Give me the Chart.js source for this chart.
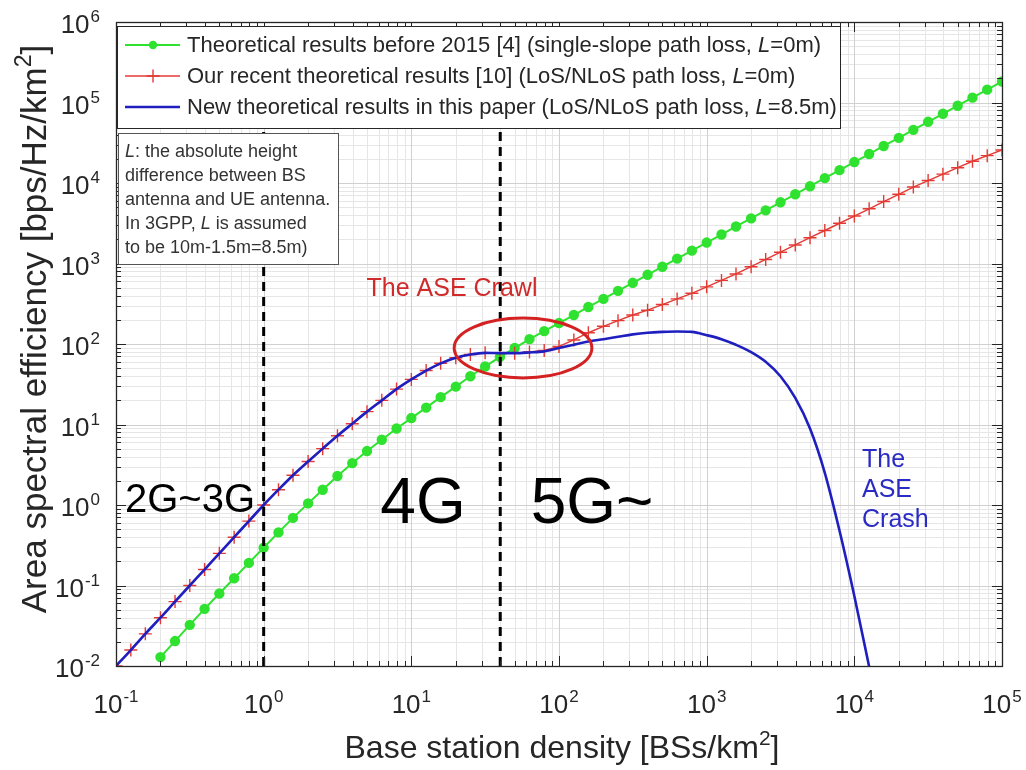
<!DOCTYPE html>
<html><head><meta charset="utf-8">
<script src="https://cdn.jsdelivr.net/npm/chart.js@4.4.1/dist/chart.umd.min.js"></script>
<style>html,body{margin:0;padding:0;background:#fff;}canvas{display:block;}</style>
</head><body>
<canvas id="c" width="1026" height="770"></canvas>
<script>
// ---- data ----
const density = [
  0.1, 0.126, 0.158, 0.2, 0.251, 0.316, 0.398, 0.501, 0.631, 0.794,
  1, 1.26, 1.58, 2, 2.51, 3.16, 3.98, 5.01, 6.31, 7.94,
  10, 12.6, 15.8, 20, 25.1, 31.6, 39.8, 50.1, 63.1, 79.4,
  100, 126, 158, 200, 251, 316, 398, 501, 631, 794,
  1000, 1260, 1580, 2000, 2510, 3160, 3980, 5010, 6310, 7940,
  10000, 12600, 15800, 20000, 25100, 31600, 39800, 50100, 63100, 79400,
  100000
];
const greenASE = [
  null, null, null, 0.0129, 0.0204, 0.0324, 0.0513, 0.0794, 0.123, 0.191,
  0.295, 0.457, 0.692, 1.047, 1.549, 2.291, 3.311, 4.677, 6.457, 8.913,
  12.02, 16.22, 21.88, 29.51, 39.81, 52.48, 69.18, 89.13, 114.8, 144.5,
  182.0, 229.1, 288.4, 363.1, 457.1, 575.4, 724.4, 912.0, 1148, 1445,
  1820, 2291, 2884, 3631, 4571, 5754, 7244, 9120, 11480, 14450,
  18200, 22910, 28840, 36310, 45710, 57540, 72440, 91200, 114800, 144500,
  182000
];
const redASE = [
  0.01, 0.0158, 0.0251, 0.0398, 0.0631, 0.1, 0.158, 0.251, 0.398, 0.631,
  1.0, 1.549, 2.344, 3.467, 5.012, 7.244, 10.23, 14.45, 19.95, 27.54,
  36.31, 46.77, 57.54, 67.61, 74.13, 77.62, 77.0, 77.0, 79.43, 83.18,
  93.33, 112.2, 138.0, 166.0, 195.0, 229.1, 263.0, 309.0, 363.1, 426.6,
  512.9, 616.6, 741.3, 912.0, 1122, 1380, 1698, 2089, 2570, 3162,
  3890, 4786, 5888, 7244, 8913, 10720, 12880, 15490, 18620, 21880,
  25700
];
const blueASE = [
  0.01, 0.0158, 0.0251, 0.0398, 0.0631, 0.1, 0.158, 0.251, 0.398, 0.631,
  1.0, 1.549, 2.344, 3.467, 5.012, 7.244, 10.23, 14.45, 19.95, 27.54,
  36.31, 46.77, 57.54, 67.61, 74.13, 77.62, 77.0, 77.0, 78.5, 81.0,
  89.13, 97.72, 107.2, 114.8, 123.0, 131.8, 138.0, 141.3, 143.0, 141.3,
  128.8, 114.8, 97.72, 79.43, 60.26, 39.81, 21.38, 8.913, 2.512, 0.479,
  0.0741, 0.0098, null, null, null, null, null, null, null, null,
  null
];
const xTickExponents = [-1, 0, 1, 2, 3, 4, 5];
const yTickExponents = [-2, -1, 0, 1, 2, 3, 4, 5, 6];
const eraBoundaries = [1, 40];
const seriesLabels = [
  ['Theoretical results before 2015 [4] (single-slope path loss, ', 'L', '=0m)'],
  ['Our recent theoretical results [10] (LoS/NLoS path loss, ', 'L', '=0m)'],
  ['New theoretical results in this paper (LoS/NLoS path loss, ', 'L', '=8.5m)']
];
const noteLines = [
  ['', 'L', ': the absolute height'],
  ['difference between BS'],
  ['antenna and UE antenna.'],
  ['In 3GPP, ', 'L', ' is assumed'],
  ['to be 10m-1.5m=8.5m)']
];
const eraLabels = ['2G~3G', '4G', '5G~'];
const crawlLabel = 'The ASE Crawl';
const crashLabel = ['The', 'ASE', 'Crash'];
const crawlEllipse = {xMin: 19.5, xMax: 167, yMin: 37.8, yMax: 210};

// ---- styling ----
const FF = '"Liberation Sans", Arial, Helvetica, sans-serif';
const GREEN = '#2fe22f', RED = '#e33a34', BLUE = '#1f1fc0', AX = '#262626';

function pts(ys) { return density.map((x, i) => ({x: x, y: ys[i]})); }

function segText(ctx, segs, x, y, size, color) {
  let cx = x;
  ctx.fillStyle = color;
  segs.forEach((s, i) => {
    ctx.font = (i % 2 ? 'italic ' : '') + size + 'px ' + FF;
    ctx.fillText(s, cx, y);
    cx += ctx.measureText(s).width;
  });
}
function pow10(ctx, e, x, y, align) {
  const bf = '26px ' + FF, sf = '17px ' + FF;
  ctx.font = bf; const bw = ctx.measureText('10').width;
  ctx.font = sf; const es = String(e); const ew = ctx.measureText(es).width;
  const tw = bw + 1 + ew;
  const x0 = align === 'center' ? x - tw / 2 : x - tw;
  ctx.textAlign = 'left'; ctx.textBaseline = 'alphabetic'; ctx.fillStyle = AX;
  ctx.font = bf; ctx.fillText('10', x0, y);
  ctx.font = sf; ctx.fillText(es, x0 + bw + 1, y - 11);
}
function supTitle(ctx, parts, size) {
  const bf = size + 'px ' + FF, sf = Math.round(size * 0.65) + 'px ' + FF;
  ctx.font = bf; const w0 = ctx.measureText(parts[0]).width, w2 = ctx.measureText(parts[2]).width;
  ctx.font = sf; const w1 = ctx.measureText(parts[1]).width;
  let x = -(w0 + w1 + w2) / 2;
  ctx.textAlign = 'left'; ctx.fillStyle = AX;
  ctx.font = bf; ctx.fillText(parts[0], x, 0); x += w0;
  ctx.font = sf; ctx.fillText(parts[1], x, -size * 0.42); x += w1;
  ctx.font = bf; ctx.fillText(parts[2], x, 0);
}
function decadeValues(lo, hi) {
  const out = [];
  for (let k = Math.round(Math.log10(lo)); k < Math.round(Math.log10(hi)); k++)
    for (let m = 1; m <= 9; m++) out.push({v: m * Math.pow(10, k), major: m === 1});
  out.push({v: hi, major: true});
  return out;
}

const matlabPlugin = {
  id: 'matlab',
  beforeDatasetsDraw(chart) {
    const c = chart.ctx, a = chart.chartArea, xs = chart.scales.x, ys = chart.scales.y;
    c.save();
    c.fillStyle = '#fff'; c.fillRect(a.left, a.top, a.right - a.left, a.bottom - a.top);
    c.lineWidth = 1;
    [false, true].forEach(maj => {
      c.strokeStyle = maj ? '#d0d0d0' : '#e6e6e6';
      decadeValues(0.1, 1e5).filter(t => t.major === maj).forEach(t => {
        const px = Math.round(xs.getPixelForValue(t.v)) + 0.5;
        c.beginPath(); c.moveTo(px, a.top); c.lineTo(px, a.bottom); c.stroke();
      });
      decadeValues(0.01, 1e6).filter(t => t.major === maj).forEach(t => {
        const py = Math.round(ys.getPixelForValue(t.v)) + 0.5;
        c.beginPath(); c.moveTo(a.left, py); c.lineTo(a.right, py); c.stroke();
      });
    });
    c.restore();
  },
  afterDatasetsDraw(chart) {
    const c = chart.ctx, a = chart.chartArea, xs = chart.scales.x, ys = chart.scales.y;
    c.save();
    c.beginPath(); c.rect(a.left, a.top, a.right - a.left, a.bottom - a.top); c.clip();
    c.strokeStyle = '#000'; c.lineWidth = 3; c.setLineDash([9, 6]);
    eraBoundaries.forEach(v => {
      const px = xs.getPixelForValue(v);
      c.beginPath(); c.moveTo(px, a.bottom); c.lineTo(px, a.top); c.stroke();
    });
    c.setLineDash([]);
    const ex0 = xs.getPixelForValue(crawlEllipse.xMin), ex1 = xs.getPixelForValue(crawlEllipse.xMax);
    const ey0 = ys.getPixelForValue(crawlEllipse.yMax), ey1 = ys.getPixelForValue(crawlEllipse.yMin);
    c.strokeStyle = '#d42222'; c.lineWidth = 3;
    c.beginPath(); c.ellipse((ex0 + ex1) / 2, (ey0 + ey1) / 2, (ex1 - ex0) / 2, (ey1 - ey0) / 2, 0, 0, Math.PI * 2); c.stroke();
    c.restore();

    c.save();
    c.textBaseline = 'alphabetic';
    c.fillStyle = '#000'; c.textAlign = 'center';
    c.font = '40px ' + FF; c.fillText(eraLabels[0], 190, 512);
    c.font = '64px ' + FF; c.fillText(eraLabels[1], 423, 523);
    c.fillText(eraLabels[2], 592, 523);
    c.fillStyle = '#d02a2a'; c.font = '25px ' + FF; c.fillText(crawlLabel, 452, 296);
    c.fillStyle = '#2a2ac4'; c.textAlign = 'left';
    crashLabel.forEach((t, i) => c.fillText(t, 862, 467 + i * 30));

    c.strokeStyle = AX; c.lineWidth = 1;
    decadeValues(0.1, 1e5).forEach(t => {
      const px = Math.round(xs.getPixelForValue(t.v)) + 0.5, L = t.major ? 10 : 5;
      c.beginPath(); c.moveTo(px, a.bottom); c.lineTo(px, a.bottom - L);
      c.moveTo(px, a.top); c.lineTo(px, a.top + L); c.stroke();
    });
    decadeValues(0.01, 1e6).forEach(t => {
      const py = Math.round(ys.getPixelForValue(t.v)) + 0.5, L = t.major ? 10 : 5;
      c.beginPath(); c.moveTo(a.left, py); c.lineTo(a.left + L, py);
      c.moveTo(a.right, py); c.lineTo(a.right - L, py); c.stroke();
    });
    c.lineWidth = 1.3;
    c.strokeRect(Math.round(a.left) + 0.5, Math.round(a.top) + 0.5, Math.round(a.right - a.left), Math.round(a.bottom - a.top));

    xTickExponents.forEach(e => pow10(c, e, xs.getPixelForValue(Math.pow(10, e)), a.bottom + 47, 'center'));
    yTickExponents.forEach(e => pow10(c, e, a.left - 16, ys.getPixelForValue(Math.pow(10, e)) + 11, 'right'));

    c.save(); c.translate((a.left + a.right) / 2 + 3, 758);
    supTitle(c, ['Base station density [BSs/km', '2', ']'], 32); c.restore();
    c.save(); c.translate(46, 329); c.rotate(-Math.PI / 2);
    supTitle(c, ['Area spectral efficiency [bps/Hz/km', '2', ']'], 35); c.restore();

    const ds = chart.data.datasets;
    const order = [2, 1, 0];
    c.fillStyle = '#fff'; c.fillRect(117, 26, 723, 102);
    c.strokeStyle = AX; c.lineWidth = 1; c.strokeRect(117.5, 26.5, 723, 102);
    order.forEach((di, r) => {
      const d = ds[di], y = 45 + r * 31;
      c.strokeStyle = d.borderColor; c.lineWidth = d.borderWidth;
      c.beginPath(); c.moveTo(125, y); c.lineTo(180, y); c.stroke();
      if (d.pointStyle === 'circle') {
        c.fillStyle = d.borderColor; c.beginPath(); c.arc(153, y, d.pointRadius, 0, Math.PI * 2); c.fill();
      } else if (d.pointStyle === 'cross') {
        c.lineWidth = d.pointBorderWidth; c.beginPath();
        c.moveTo(153, y - d.pointRadius); c.lineTo(153, y + d.pointRadius);
        c.moveTo(153 - d.pointRadius, y); c.lineTo(153 + d.pointRadius, y); c.stroke();
      }
      c.textBaseline = 'middle'; c.textAlign = 'left';
      segText(c, seriesLabels[r], 187, y + 1, 22, AX);
    });
    c.fillStyle = '#fff'; c.fillRect(118, 133, 220, 131);
    c.strokeStyle = '#555'; c.lineWidth = 1; c.strokeRect(118.5, 133.5, 220, 131);
    c.textBaseline = 'middle';
    noteLines.forEach((l, i) => segText(c, l, 125, 152 + i * 24, 18, '#333'));
    c.restore();
  }
};

new Chart(document.getElementById('c').getContext('2d'), {
  type: 'line',
  data: { datasets: [
    {label: 'New theoretical results in this paper', data: pts(blueASE), borderColor: BLUE, borderWidth: 2.6,
     pointRadius: 0, cubicInterpolationMode: 'monotone', spanGaps: false, order: 1},
    {label: 'Our recent theoretical results', data: pts(redASE), borderColor: RED, borderWidth: 1.4,
     pointStyle: 'cross', pointRadius: 6.5, pointBorderWidth: 1.4, pointBorderColor: RED, order: 2},
    {label: 'Theoretical results before 2015', data: pts(greenASE), borderColor: GREEN, backgroundColor: GREEN,
     borderWidth: 2, pointStyle: 'circle', pointRadius: 4.2, pointBackgroundColor: GREEN, pointBorderColor: GREEN, order: 3}
  ]},
  options: {
    responsive: false, animation: false, devicePixelRatio: 1, events: [],
    layout: {padding: {top: 22, right: 24, left: 0, bottom: 0}},
    plugins: {legend: {display: false}, tooltip: {enabled: false}},
    scales: {
      x: {type: 'logarithmic', min: 0.1, max: 1e5, ticks: {display: false}, grid: {display: false},
          border: {display: false}, afterFit(s) { s.height = 104; }},
      y: {type: 'logarithmic', min: 0.01, max: 1e6, ticks: {display: false}, grid: {display: false},
          border: {display: false}, afterFit(s) { s.width = 116; }}
    }
  },
  plugins: [matlabPlugin]
});
</script>
</body></html>
